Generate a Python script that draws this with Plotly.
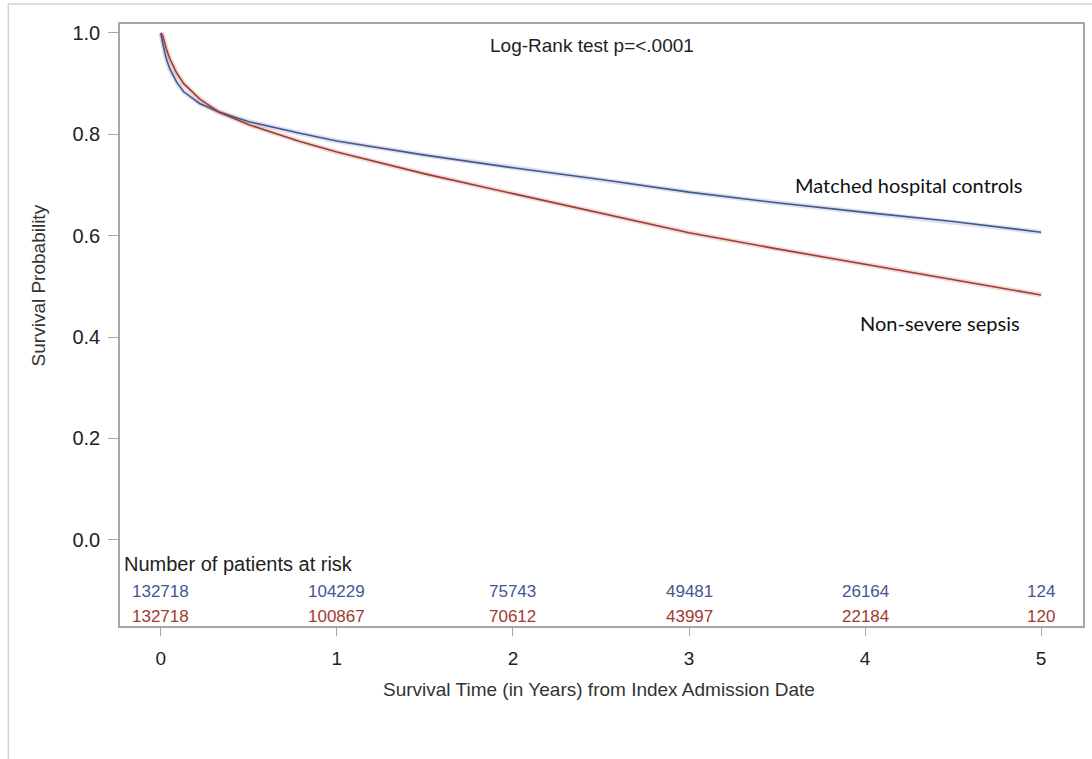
import plotly.graph_objects as go

# ---- data ----
time_years = [0.0, 0.01, 0.03, 0.05, 0.09, 0.13, 0.22, 0.33, 0.5, 0.79, 1.0, 1.5, 2.0, 2.5, 3.0, 3.5, 4.0, 4.5, 5.0]
surv_controls = [1.0, 0.98, 0.95, 0.93, 0.903, 0.884, 0.861, 0.844, 0.825, 0.802, 0.787, 0.759, 0.734, 0.711, 0.686, 0.665, 0.646, 0.628, 0.607]
surv_sepsis = [1.0, 0.995, 0.97, 0.950, 0.921, 0.900, 0.870, 0.844, 0.819, 0.786, 0.765, 0.722, 0.683, 0.644, 0.606, 0.574, 0.544, 0.514, 0.483]

risk_times = [0, 1, 2, 3, 4, 5]
risk_controls = [132718, 104229, 75743, 49481, 26164, 124]
risk_sepsis = [132718, 100867, 70612, 43997, 22184, 120]
group_labels = ["0", "1"]

y_ticks = [0.0, 0.2, 0.4, 0.6, 0.8, 1.0]
y_ticktext = ["0.0", "0.2", "0.4", "0.6", "0.8", "1.0"]

BLUE = "#445694"
RED = "#A23A2E"
FRAME = "#a4a8ad"
FONT = "Liberation Sans, Arial, sans-serif"
LABEL_FONT = "Lato, Open Sans, sans-serif"

fig = go.Figure()

# faint confidence-band halos
fig.add_trace(go.Scatter(x=time_years, y=surv_controls, mode="lines",
                         line=dict(color="rgba(68,86,148,0.18)", width=5),
                         hoverinfo="skip", showlegend=False))
fig.add_trace(go.Scatter(x=time_years, y=surv_sepsis, mode="lines",
                         line=dict(color="rgba(162,58,46,0.18)", width=5),
                         hoverinfo="skip", showlegend=False))
fig.add_trace(go.Scatter(x=time_years, y=surv_controls, mode="lines",
                         line=dict(color=BLUE, width=1.6), name="Matched hospital controls",
                         showlegend=False))
fig.add_trace(go.Scatter(x=time_years, y=surv_sepsis, mode="lines",
                         line=dict(color=RED, width=1.6), name="Non-severe sepsis",
                         showlegend=False))

annotations = []
row_y = [-0.1026, -0.152]
for lab, vals, col, yy in zip(group_labels, [risk_controls, risk_sepsis], [BLUE, RED], row_y):
    annotations.append(dict(x=-0.363, y=yy, xref="x", yref="y", text=lab, showarrow=False,
                            font=dict(family=FONT, size=18, color=col),
                            xanchor="center", yanchor="middle"))
    for t, v in zip(risk_times, vals):
        annotations.append(dict(x=t, y=yy, xref="x", yref="y", text=str(v), showarrow=False,
                                font=dict(family=FONT, size=17, color=col),
                                xanchor="center", yanchor="middle"))

annotations.append(dict(x=-0.22, y=-0.047, xref="x", yref="y", text="Number of patients at risk",
                        showarrow=False, xanchor="left", yanchor="middle",
                        font=dict(family=FONT, size=20, color="#222222")))
annotations.append(dict(x=2.449, y=0.976, xref="x", yref="y", text="Log-Rank test p=<.0001",
                        showarrow=False, xanchor="center", yanchor="middle",
                        font=dict(family=FONT, size=19, color="#222222")))
annotations.append(dict(x=4.246, y=0.700, xref="x", yref="y", text="Matched hospital controls",
                        showarrow=False, xanchor="center", yanchor="middle",
                        font=dict(family=LABEL_FONT, size=20, color="#111111")))
annotations.append(dict(x=4.427, y=0.428, xref="x", yref="y", text="Non-severe sepsis",
                        showarrow=False, xanchor="center", yanchor="middle",
                        font=dict(family=LABEL_FONT, size=20, color="#111111")))
# axis titles
annotations.append(dict(x=-0.085, y=0.566, xref="paper", yref="paper", text="Survival Probability",
                        showarrow=False, textangle=-90, xanchor="center", yanchor="middle",
                        font=dict(family=FONT, size=19, color="#333333")))
annotations.append(dict(x=0.497, y=-0.105, xref="paper", yref="paper",
                        text="Survival Time (in Years) from Index Admission Date",
                        showarrow=False, xanchor="center", yanchor="middle",
                        font=dict(family=FONT, size=19, color="#333333")))

fig.update_layout(
    width=1092, height=759,
    margin=dict(l=120, r=7, t=24, b=133),
    paper_bgcolor="white", plot_bgcolor="white",
    annotations=annotations,
    shapes=[dict(type="rect", xref="paper", yref="paper",
                 x0=-0.116, x1=1.2, y0=-0.4, y1=1.0332,
                 line=dict(color="#d4d4d4", width=1.5), layer="below")],
    xaxis=dict(range=[-0.232, 5.238], tickvals=risk_times, ticks="outside", ticklen=8,
               tickcolor=FRAME, showline=True, linecolor=FRAME, linewidth=1.5, mirror=True,
               showgrid=False, zeroline=False, ticklabelstandoff=6,
               tickfont=dict(family=FONT, size=19, color="#222222")),
    yaxis=dict(range=[-0.17, 1.0177], tickvals=y_ticks, ticktext=y_ticktext, ticks="outside",
               ticklen=10, tickcolor=FRAME, showline=True, linecolor=FRAME, linewidth=1.5,
               mirror=True, showgrid=False, zeroline=False, ticklabelstandoff=4,
               tickfont=dict(family=FONT, size=20, color="#222222")),
)

fig.write_html("out.html")
